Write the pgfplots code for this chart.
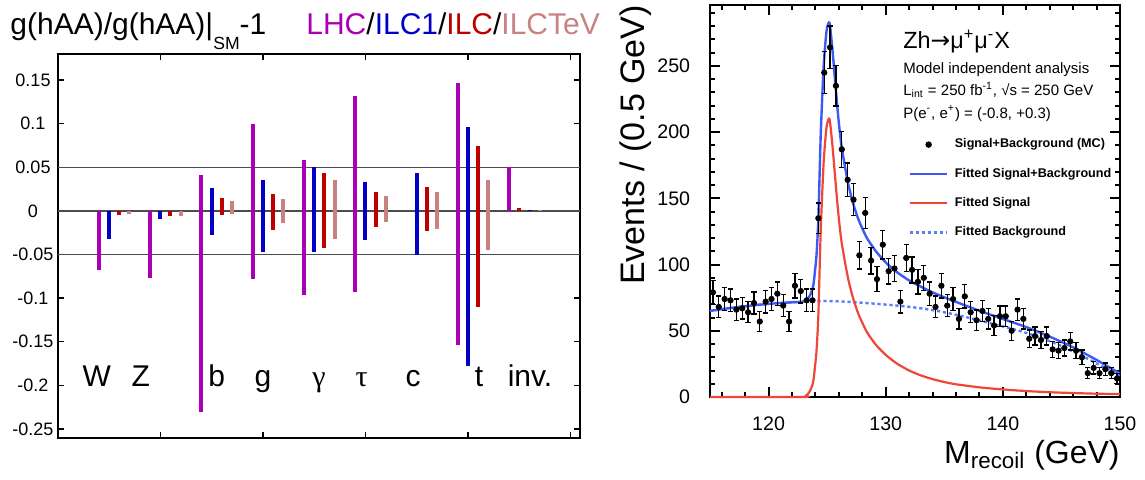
\documentclass[border=0pt]{standalone}
\usepackage{fontspec}
\setmainfont{Liberation Sans}
\newfontfamily\serifg{Liberation Serif}
\newfontfamily\djv{DejaVu Sans}
\usepackage{pgfplots}
\pgfplotsset{compat=1.18}
\usepackage{pgfplotstable}
\definecolor{lhc}{RGB}{170,0,180}
\definecolor{ilcone}{RGB}{0,0,200}
\definecolor{ilc}{RGB}{190,0,0}
\definecolor{ilctev}{RGB}{200,130,130}
\definecolor{fitblue}{RGB}{60,90,245}
\definecolor{fitred}{RGB}{240,70,55}
\definecolor{bgblue}{RGB}{90,125,255}

\pgfplotstableread{
x y e
115.25 79 8.9
115.75 68 8.2
116.25 74 8.6
116.75 73 8.5
117.25 66 8.1
117.75 67 8.2
118.25 64 8.0
118.75 71 8.4
119.25 57 7.5
119.75 72 8.5
120.25 74 8.6
120.75 78 8.8
121.25 69 8.3
121.75 57 7.5
122.25 84 9.2
122.75 80 8.9
123.25 73 8.5
123.75 73 8.5
124.25 135 11.6
124.75 245 15.7
125.25 264 16.2
125.75 235 15.3
126.25 187 13.7
126.75 164 12.8
127.25 149 12.2
127.75 107 10.3
128.25 139 11.8
128.75 103 10.1
129.25 89 9.4
129.75 115 10.7
130.25 95 9.7
130.75 97 9.8
131.25 72 8.5
131.75 105 10.2
132.25 96 9.8
132.75 87 9.3
133.25 90 9.5
133.75 78 8.8
134.25 68 8.2
134.75 84 9.2
135.25 69 8.3
135.75 74 8.6
136.25 59 7.7
136.75 76 8.7
137.25 64 8.0
137.75 58 7.6
138.25 65 8.1
138.75 59 7.7
139.25 54 7.3
139.75 61 7.8
140.25 61 7.8
140.75 50 7.1
141.25 66 8.1
141.75 59 7.7
142.25 44 6.6
142.75 46 6.8
143.25 43 6.6
143.75 46 6.8
144.25 36 6.0
144.75 35 5.9
145.25 37 6.1
145.75 42 6.5
146.25 35 5.9
146.75 30 5.5
147.25 18 4.2
147.75 22 4.7
148.25 18 4.2
148.75 21 4.6
149.25 18 4.2
149.75 14 3.7
}\mcdata

\pgfplotstableread{
x t
115 65
117 67.5
119 69.5
121 71
122.9 72
123.2 73.1
123.5 76.2
123.8 83.3
124.0 98.3
124.1 108.3
124.25 134.4
124.45 197.4
124.7 249.5
124.95 276.5
125.2 282.5
125.45 262.4
125.7 236.4
125.95 211.3
126.2 191.2
126.5 175.1
126.8 160.9
127.2 146.7
127.7 133.4
128.4 120
129.2 109.6
130.1 100.7
131 94
132 88
133 83.3
134 79
135 75.3
136 71.8
138 65.1
140 58.9
142 52.8
144 45.6
146 37.5
148 28
150 17.7
}\totaldata

\pgfplotstableread{
x s
115 0
122.9 0
123.2 1
123.5 4
123.8 11
124.0 26
124.1 36
124.25 62
124.45 125
124.7 177
124.95 204
125.2 210
125.45 190
125.7 164
125.95 139
126.2 119
126.5 103
126.8 89
127.2 75
127.7 62
128.4 49
129.2 39
130.1 31
131 25
132 20
133 16.3
134 13.5
135 11.3
136 9.6
138 7.3
140 5.7
142 4.5
144 3.6
146 3.0
148 2.5
150 2.2
}\sigdata

\pgfplotstableread{
x b
115 65
117 67.5
119 69.5
121 71
123 72
125 72.5
127 71.8
129 70.5
131 69
133 67
135 64
137 60
139 55.5
141 51
143 45.5
145 38.5
147 30
149 20.5
150 15.5
}\bgdata

\begin{document}
\begin{tikzpicture}
\path[use as bounding box] (0,0) rectangle (572.5pt,239.5pt);
\begin{scope}
\clip (0,0) rectangle (303.5pt,239.5pt);
\node[anchor=base west, inner sep=0pt, font=\fontsize{15}{17}\selectfont] at (5pt,222.5pt) {g(hAA)/g(hAA)|\raisebox{-7.6pt}{\fontsize{8.8}{10}\selectfont SM}-1};
\node[anchor=base west, inner sep=0pt, font=\fontsize{15}{17}\selectfont] at (153pt,222.5pt) {\textcolor{lhc}{LHC}/\textcolor{ilcone}{ILC1}/\textcolor{ilc}{ILC}/\textcolor{ilctev}{ILCTeV}};
\end{scope}

\begin{axis}[
  at={(29pt,20.65pt)}, anchor=south west,
  scale only axis, width=261pt, height=191.85pt,
  xmin=0, xmax=522, ymin=-0.26, ymax=0.18,
  axis line style={line width=0.9pt},
  tick align=inside, tick pos=both,
  xtick={102.5,205,307.5,410,512.5}, xticklabels={},
  ytick={-0.25,-0.2,-0.15,-0.1,-0.05,0,0.05,0.1,0.15},
  yticklabels={-0.25,-0.2,-0.15,-0.1,-0.05,0,0.05,0.1,0.15},
  yticklabel pos=left,
  yticklabel style={anchor=center, xshift=-12.5pt, font=\fontsize{9}{10}\selectfont},
  major tick length=3pt,
  every tick/.style={black, line width=0.7pt},
  clip=false,
]
\addplot[black!70, line width=0.6pt, forget plot] coordinates {(0,0.05) (522,0.05)};
\addplot[black!70, line width=0.6pt, forget plot] coordinates {(0,0) (522,0)};
\addplot[black!70, line width=0.6pt, forget plot] coordinates {(0,-0.05) (522,-0.05)};
% LHC
\addplot[ycomb, lhc, line width=2pt, mark=none] coordinates {
(40.7,-0.068) (92.0,-0.077) (143.3,0.041) (143.3,-0.231) (194.6,0.100) (194.6,-0.078)
(245.9,0.059) (245.9,-0.096) (297.2,0.132) (297.2,-0.093) (399.8,0.147) (399.8,-0.154) (451.1,0.051)};
% ILC1
\addplot[ycomb, ilcone, line width=2pt, mark=none] coordinates {
(50.9,-0.032) (102.2,-0.009) (153.5,0.026) (153.5,-0.028) (204.8,0.035) (204.8,-0.047)
(256.1,0.051) (256.1,-0.047) (307.4,0.033) (307.4,-0.033) (358.7,0.043) (358.7,-0.050)
(410.0,0.096) (410.0,-0.178) (471.5,0.0012)};
% ILC
\addplot[ycomb, ilc, line width=2pt, mark=none] coordinates {
(61.1,-0.005) (112.4,-0.006) (163.7,0.015) (163.7,-0.005) (215.0,0.019) (215.0,-0.022)
(266.3,0.044) (266.3,-0.043) (317.6,0.022) (317.6,-0.018) (368.9,0.027) (368.9,-0.023)
(420.2,0.075) (420.2,-0.110) (461.3,0.003)};
% ILCTeV
\addplot[ycomb, ilctev, line width=2pt, mark=none] coordinates {
(71.3,-0.004) (122.6,-0.006) (173.9,0.011) (173.9,-0.003) (225.2,0.014) (225.2,-0.014)
(276.5,0.035) (276.5,-0.032) (327.8,0.017) (327.8,-0.013) (379.1,0.022) (379.1,-0.021)
(430.4,0.035) (430.4,-0.045) (481.7,0.0012)};
\node[anchor=base, font=\fontsize{15}{17}\selectfont] at (axis cs:38.7,-0.201) {W};
\node[anchor=base, font=\fontsize{15}{17}\selectfont] at (axis cs:82.7,-0.201) {Z};
\node[anchor=base, font=\fontsize{15}{17}\selectfont] at (axis cs:158.7,-0.201) {b};
\node[anchor=base, font=\fontsize{15}{17}\selectfont] at (axis cs:205,-0.201) {g};
\node[anchor=base, font=\fontsize{15}{17}\selectfont\serifg] at (axis cs:261,-0.201) {γ};
\node[anchor=base, font=\fontsize{15}{17}\selectfont\serifg] at (axis cs:303.7,-0.201) {τ};
\node[anchor=base, font=\fontsize{15}{17}\selectfont] at (axis cs:355,-0.201) {c};
\node[anchor=base, font=\fontsize{15}{17}\selectfont] at (axis cs:421,-0.201) {t};
\node[anchor=base, font=\fontsize{15}{17}\selectfont] at (axis cs:472,-0.201) {inv.};
\end{axis}

\begin{axis}[
  at={(355pt,41pt)}, anchor=south west,
  scale only axis, width=205pt, height=196pt,
  xmin=115, xmax=150, ymin=0, ymax=296,
  xtick={120,130,140,150},
  minor xtick={116,118,122,124,126,128,132,134,136,138,142,144,146,148},
  ytick={0,50,100,150,200,250},
  minor ytick={10,20,30,40,60,70,80,90,110,120,130,140,160,170,180,190,210,220,230,240,260,270,280,290},
  tick align=inside, tick pos=both, ticklabel pos=left,
  major tick length=5pt, minor tick length=2.5pt,
  axis line style={line width=1.2pt},
  every tick/.style={black, line width=1pt},
  /pgf/number format/assume math mode=true,
  ticklabel style={font=\fontsize{9.8}{11}\selectfont},
  xticklabel style={yshift=-6.6pt}, yticklabel style={xshift=-6.4pt},
  legend style={draw=none, fill=none, at={(rel axis cs:0.483,0.668)}, anchor=north west,
    font=\bfseries\fontsize{6.3}{7.5}\selectfont, row sep=5.6pt, inner sep=0pt,
    nodes={inner sep=1.5pt}, column sep=2pt},
  legend cell align=left,
  legend image code/.code={\draw[#1] (0pt,0pt) -- (18.5pt,0pt);},
  clip=false,
]
\addlegendimage{legend image code/.code={\fill[black] (9.5pt,0pt) circle (1.4pt);}}
\addlegendentry{Signal+Background (MC)}
\addlegendimage{fitblue, line width=1.2pt}
\addlegendentry{Fitted Signal+Background}
\addlegendimage{fitred, line width=1.2pt}
\addlegendentry{Fitted Signal}
\addlegendimage{bgblue, line width=1.2pt, dash pattern=on 1.6pt off 1.4pt}
\addlegendentry{Fitted Background}

\addplot[forget plot, bgblue, line width=1.2pt, dash pattern=on 1.6pt off 1.4pt, smooth] table[x=x,y=b] {\bgdata};
\addplot[forget plot, fitred, line width=1.1pt, smooth, tension=0.4] table[x=x,y=s] {\sigdata};
\addplot[forget plot, fitblue, line width=1.2pt, smooth, tension=0.4] table[x=x,y=t] {\totaldata};
\addplot[forget plot, only marks, mark=*, mark size=1.35pt, black,
  error bars/.cd, y dir=both, y explicit,
  error bar style={line width=0.65pt, black},
  error mark options={rotate=90, mark size=1.3pt, line width=0.65pt, black}]
  table[x=x, y=y, y error=e] {\mcdata};

\node[anchor=base west, inner sep=0pt, font=\fontsize{11.7}{13}\selectfont] at (rel axis cs:0.4707,0.890) {Zh{\djv →}μ\textsuperscript{+}μ\textsuperscript{-}X};
\node[anchor=base west, inner sep=0pt, font=\fontsize{7.5}{9}\selectfont] at (rel axis cs:0.4707,0.8265) {Model independent analysis};
\node[anchor=base west, inner sep=0pt, font=\fontsize{7.5}{9}\selectfont] at (rel axis cs:0.4707,0.770) {L\textsubscript{int} = 250 fb\textsuperscript{-1}, √s = 250 GeV};
\node[anchor=base west, inner sep=0pt, font=\fontsize{7.5}{9}\selectfont] at (rel axis cs:0.4707,0.7117) {P(e\textsuperscript{-}, e\textsuperscript{+}) = (-0.8, +0.3)};
\end{axis}

\node[rotate=90, anchor=base, font=\fontsize{17}{19}\selectfont, inner sep=0pt] at (322pt,167pt) {Events / (0.5 GeV)};
\node[anchor=base east, font=\fontsize{16}{18}\selectfont, inner sep=0pt] at (560pt,8pt) {M\textsubscript{recoil} (GeV)};
\end{tikzpicture}
\end{document}
